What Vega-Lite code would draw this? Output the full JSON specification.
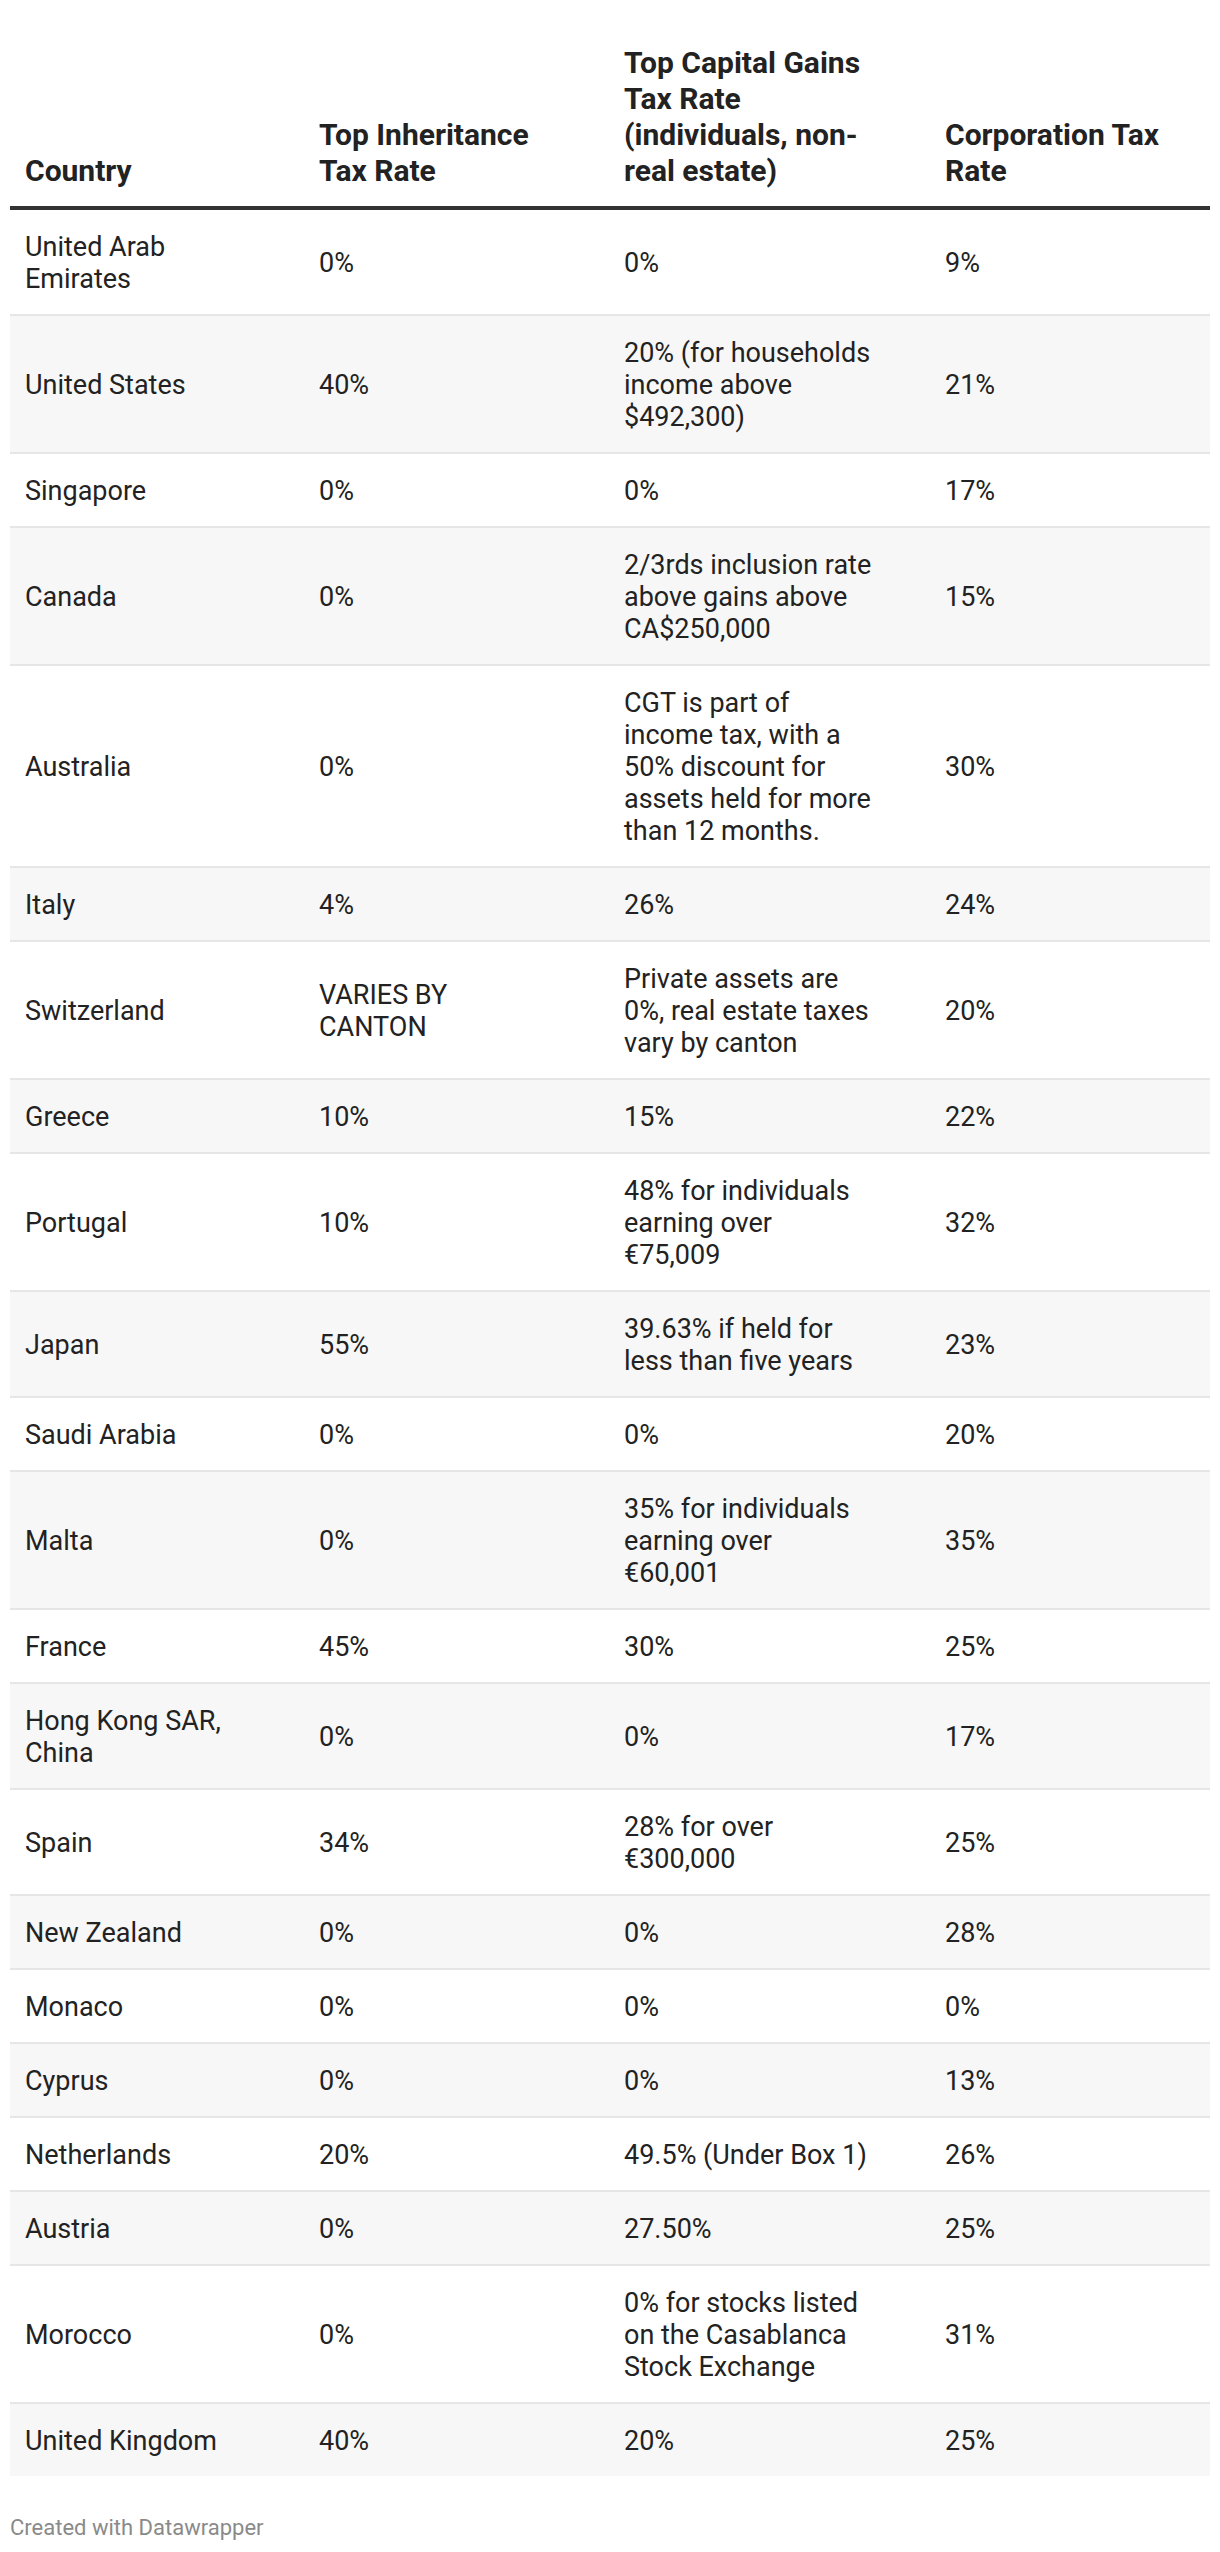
{
  "$schema": "https://vega.github.io/schema/vega-lite/v6.json",
  "width": 1200,
  "height": 2552,
  "padding": {"left": 10, "right": 10, "top": 0, "bottom": 0},
  "autosize": {"type": "none"},
  "background": "white",
  "config": {"view": {"stroke": null}},
  "data": {
    "values": [
      {"Country": "United Arab\nEmirates", "Inheritance": "0%", "CGT": "0%", "Corp": "9%"},
      {"Country": "United States", "Inheritance": "40%", "CGT": "20% (for households\nincome above\n$492,300)", "Corp": "21%"},
      {"Country": "Singapore", "Inheritance": "0%", "CGT": "0%", "Corp": "17%"},
      {"Country": "Canada", "Inheritance": "0%", "CGT": "2/3rds inclusion rate\nabove gains above\nCA$250,000", "Corp": "15%"},
      {"Country": "Australia", "Inheritance": "0%", "CGT": "CGT is part of\nincome tax, with a\n50% discount for\nassets held for more\nthan 12 months.", "Corp": "30%"},
      {"Country": "Italy", "Inheritance": "4%", "CGT": "26%", "Corp": "24%"},
      {"Country": "Switzerland", "Inheritance": "VARIES BY\nCANTON", "CGT": "Private assets are\n0%, real estate taxes\nvary by canton", "Corp": "20%"},
      {"Country": "Greece", "Inheritance": "10%", "CGT": "15%", "Corp": "22%"},
      {"Country": "Portugal", "Inheritance": "10%", "CGT": "48% for individuals\nearning over\n€75,009", "Corp": "32%"},
      {"Country": "Japan", "Inheritance": "55%", "CGT": "39.63% if held for\nless than five years", "Corp": "23%"},
      {"Country": "Saudi Arabia", "Inheritance": "0%", "CGT": "0%", "Corp": "20%"},
      {"Country": "Malta", "Inheritance": "0%", "CGT": "35% for individuals\nearning over\n€60,001", "Corp": "35%"},
      {"Country": "France", "Inheritance": "45%", "CGT": "30%", "Corp": "25%"},
      {"Country": "Hong Kong SAR,\nChina", "Inheritance": "0%", "CGT": "0%", "Corp": "17%"},
      {"Country": "Spain", "Inheritance": "34%", "CGT": "28% for over\n€300,000", "Corp": "25%"},
      {"Country": "New Zealand", "Inheritance": "0%", "CGT": "0%", "Corp": "28%"},
      {"Country": "Monaco", "Inheritance": "0%", "CGT": "0%", "Corp": "0%"},
      {"Country": "Cyprus", "Inheritance": "0%", "CGT": "0%", "Corp": "13%"},
      {"Country": "Netherlands", "Inheritance": "20%", "CGT": "49.5% (Under Box 1)", "Corp": "26%"},
      {"Country": "Austria", "Inheritance": "0%", "CGT": "27.50%", "Corp": "25%"},
      {"Country": "Morocco", "Inheritance": "0%", "CGT": "0% for stocks listed\non the Casablanca\nStock Exchange", "Corp": "31%"},
      {"Country": "United Kingdom", "Inheritance": "40%", "CGT": "20%", "Corp": "25%"}
    ]
  },
  "transform": [
    {"window": [{"op": "row_number", "as": "i"}]},
    {"calculate": "max(length(split(datum.Country, '\\n')), length(split(datum.Inheritance, '\\n')), length(split(datum.CGT, '\\n')), length(split(datum.Corp, '\\n')))", "as": "n"},
    {"calculate": "32 * datum.n + 42", "as": "h"},
    {"window": [{"op": "sum", "field": "h", "as": "cum"}], "sort": [{"field": "i"}], "frame": [null, 0]},
    {"calculate": "208 + datum.cum - datum.h", "as": "top"},
    {"calculate": "208 + datum.cum", "as": "bot"},
    {"calculate": "datum.top + 1", "as": "sep"},
    {"calculate": "datum.top + datum.h / 2 + 3", "as": "mid"}
  ],
  "layer": [
    {
      "transform": [{"filter": "datum.i % 2 == 0"}],
      "mark": {"type": "rect", "fill": "#f7f7f7"},
      "encoding": {
        "x": {"value": 0},
        "x2": {"value": "width"},
        "y": {"field": "top", "type": "quantitative", "axis": null, "scale": {"domain": [0, 2552], "range": [0, 2552], "nice": false, "zero": false}},
        "y2": {"field": "bot"}
      }
    },
    {
      "transform": [{"filter": "datum.i > 1"}],
      "mark": {"type": "rule", "color": "#e6e6e6", "strokeWidth": 2},
      "encoding": {
        "x": {"value": 0},
        "x2": {"value": "width"},
        "y": {"field": "sep", "type": "quantitative", "axis": null, "scale": {"domain": [0, 2552], "range": [0, 2552], "nice": false, "zero": false}}
      }
    },
    {
      "transform": [
        {"fold": ["Country", "Inheritance", "CGT", "Corp"]},
        {"calculate": "indexof(['Country', 'Inheritance', 'CGT', 'Corp'], datum.key)", "as": "col"},
        {"calculate": "datum.mid - (length(split(datum.value, '\\n')) - 1) * 16", "as": "firstLine"}
      ],
      "mark": {"type": "text", "align": "left", "baseline": "middle", "font": "Roboto", "fontSize": 27, "lineHeight": 32, "lineBreak": "\n", "color": "#222222"},
      "encoding": {
        "x": {"field": "col", "type": "quantitative", "axis": null, "scale": {"domain": [0, 1, 2, 3], "range": [15, 309, 614, 935], "nice": false, "zero": false}},
        "y": {"field": "firstLine", "type": "quantitative", "axis": null, "scale": {"domain": [0, 2552], "range": [0, 2552], "nice": false, "zero": false}},
        "text": {"field": "value"}
      }
    },
    {
      "data": {"values": [
        {"col": 0, "label": "Country"},
        {"col": 1, "label": "Top Inheritance\nTax Rate"},
        {"col": 2, "label": "Top Capital Gains\nTax Rate\n(individuals, non-\nreal estate)"},
        {"col": 3, "label": "Corporation Tax\nRate"}
      ]},
      "transform": [
        {"calculate": "181 - (length(split(datum.label, '\\n')) - 1) * 36", "as": "firstLine"}
      ],
      "mark": {"type": "text", "align": "left", "baseline": "alphabetic", "font": "Roboto", "fontSize": 30, "fontWeight": "bold", "lineHeight": 36, "lineBreak": "\n", "color": "#222222"},
      "encoding": {
        "x": {"field": "col", "type": "quantitative", "axis": null, "scale": {"domain": [0, 1, 2, 3], "range": [15, 309, 614, 935], "nice": false, "zero": false}},
        "y": {"field": "firstLine", "type": "quantitative", "axis": null, "scale": {"domain": [0, 2552], "range": [0, 2552], "nice": false, "zero": false}},
        "text": {"field": "label"}
      }
    },
    {
      "data": {"values": [{"edge": "header"}]},
      "mark": {"type": "rule", "color": "#333333", "strokeWidth": 4},
      "encoding": {
        "x": {"value": 0},
        "x2": {"value": "width"},
        "y": {"datum": 208, "type": "quantitative", "axis": null, "scale": {"domain": [0, 2552], "range": [0, 2552], "nice": false, "zero": false}}
      }
    },
    {
      "data": {"values": [{"note": "Created with Datawrapper"}]},
      "mark": {"type": "text", "align": "left", "baseline": "alphabetic", "font": "Roboto", "fontSize": 22, "color": "#8a8a8a"},
      "encoding": {
        "x": {"value": 0},
        "y": {"datum": 2535, "type": "quantitative", "axis": null, "scale": {"domain": [0, 2552], "range": [0, 2552], "nice": false, "zero": false}},
        "text": {"field": "note"}
      }
    }
  ]
}
